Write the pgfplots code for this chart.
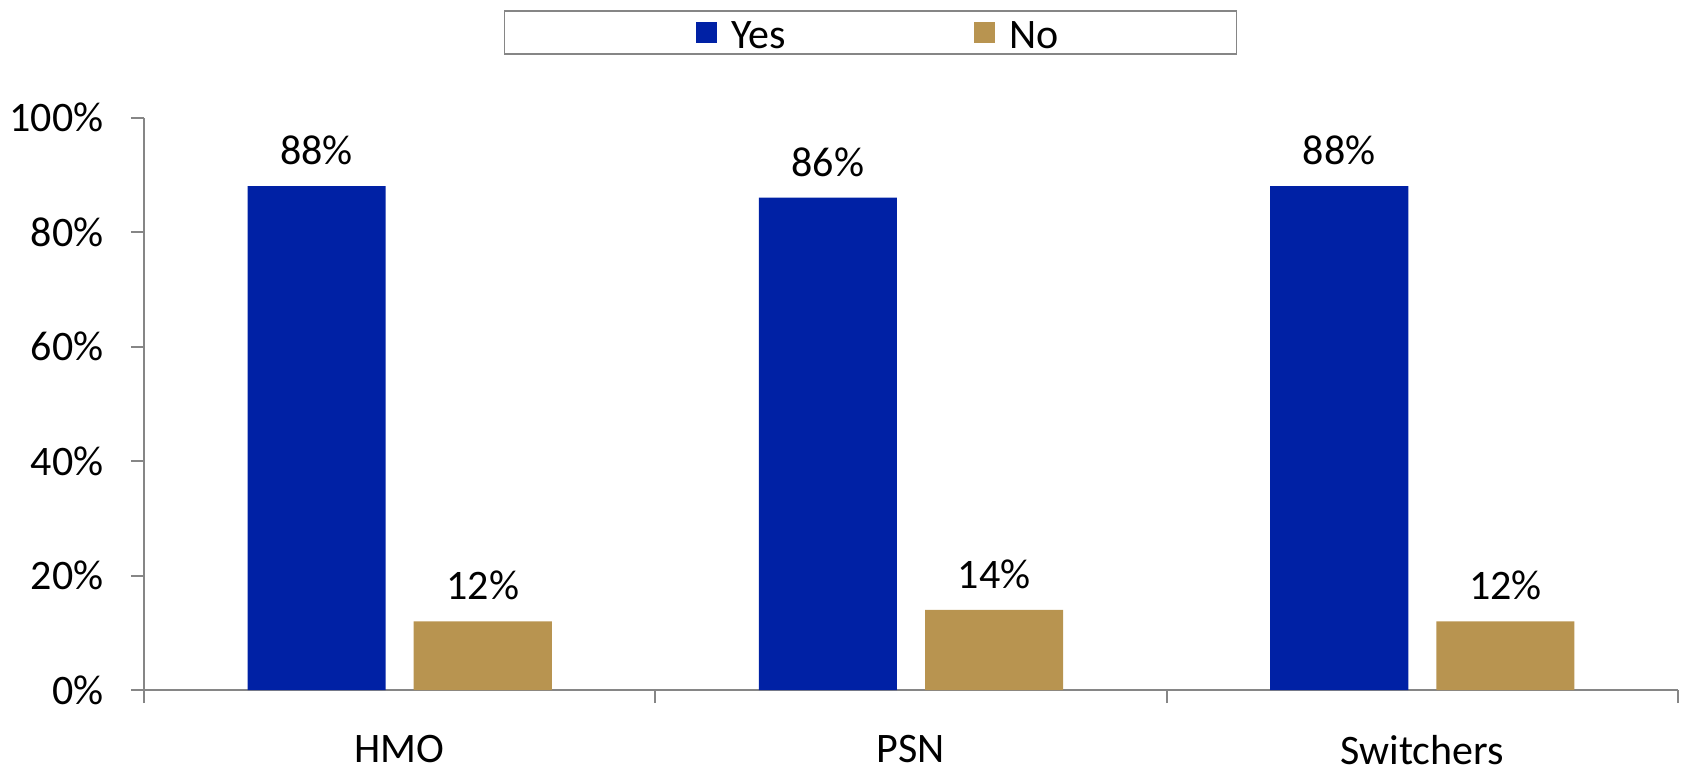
\documentclass[border=0pt]{standalone}
\usepackage{fontspec}
\setmainfont{Carlito}
\usepackage{pgfplots}
\pgfplotsset{compat=1.18}
\definecolor{yesblue}{RGB}{0,33,165}
\definecolor{nogold}{RGB}{184,148,80}
\definecolor{axisgray}{RGB}{134,134,134}
\newcommand{\chartfont}{\fontsize{21}{25}\selectfont}

\begin{document}
\begin{tikzpicture}
\path[use as bounding box] (0,0) rectangle (841.5pt,386.5pt);
\begin{axis}[
  at={(72pt,41.5pt)}, anchor=south west,
  scale only axis, width=767pt, height=286.25pt,
  xmin=-0.5, xmax=2.5, ymin=0, ymax=100,
  ybar, bar width=0.27,
  axis x line*=bottom, axis y line*=left,
  axis line style={axisgray, line width=1pt},
  xtick={0,1,2}, xticklabels={HMO,PSN,Switchers},
  minor xtick={-0.5,0.5,1.5,2.5},
  ytick={0,20,...,100},
  yticklabels={0\%,20\%,40\%,60\%,80\%,100\%},
  tick align=outside,
  major tick length=6.5pt, minor tick length=6.5pt,
  major x tick style={draw=none},
  minor x tick style={axisgray, line width=1pt},
  ytick style={axisgray, line width=1pt},
  tick label style={font=\chartfont, black},
  xticklabel style={yshift=-16pt, inner ysep=0pt},
  yticklabel style={xshift=-10.2pt},
  nodes near coords={\pgfmathprintnumber[assume math mode=true]{\pgfplotspointmeta}\%},
  every node near coord/.append style={font=\chartfont, black, yshift=7pt},
  legend columns=2,
  % swatch with a blank 7pt lead-in
  legend image code/.code={%
    \path[draw=none, fill=none] (0pt,0pt) -- (7pt,0pt);
    \fill[#1] (7pt,-5.25pt) rectangle (17.5pt,5.25pt);},
  legend style={
    at={(0.4736,1.187)}, anchor=north,
    draw=axisgray, line width=0.8pt, fill=white,
    font=\chartfont,
    inner xsep=89pt, inner ysep=0pt,
    nodes={inner xsep=0pt, inner ysep=0pt, text height=18.6pt, text depth=2.9pt},
    /tikz/every odd column/.append style={column sep=7pt},
    /tikz/every even column/.append style={column sep=87pt},
  },
]
\addplot[fill=yesblue, draw=none, bar shift=-0.1625]
  coordinates {(0,88) (1,86) (2,88)};
\addlegendentry{Yes}
\addplot[fill=nogold, draw=none, bar shift=0.1625]
  coordinates {(0,12) (1,14) (2,12)};
\addlegendentry{No}
\end{axis}
\end{tikzpicture}
\end{document}
